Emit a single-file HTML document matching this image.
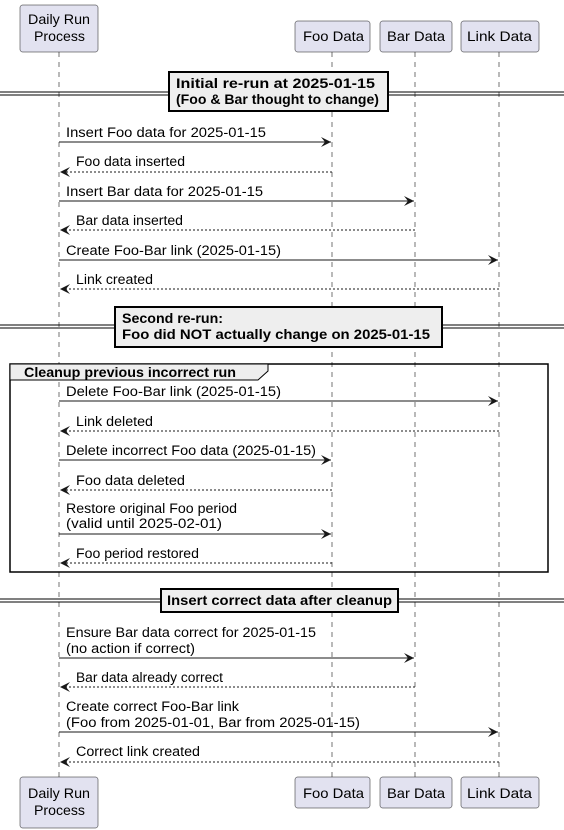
<!DOCTYPE html>
<html><head><meta charset="utf-8"><style>
html,body{margin:0;padding:0;background:#fff}
svg{display:block}
text{font-family:"Liberation Sans",sans-serif;font-size:13.5px;fill:#000}
.b{font-weight:bold}
.pt{font-size:14px}
</style></head><body>
<svg width="564" height="830" viewBox="0 0 564 830" xmlns="http://www.w3.org/2000/svg">
<defs>
<marker id="a" markerWidth="12" markerHeight="10" refX="10" refY="5" orient="auto" markerUnits="userSpaceOnUse">
<path d="M0,0 L10,5 L0,10 L4,5 Z" fill="#181818"/>
</marker>
</defs>
<g stroke="#181818" stroke-width="0.6" stroke-dasharray="5,5">
<line x1="59" y1="52" x2="59" y2="777"/>
<line x1="332" y1="52" x2="332" y2="777"/>
<line x1="415" y1="52" x2="415" y2="777"/>
<line x1="499" y1="52" x2="499" y2="777"/>
</g>
<g fill="#E2E2F0" stroke="#181818" stroke-width="0.5">
<rect x="20" y="5" width="78" height="47" rx="2.5"/>
<rect x="295" y="21" width="75" height="31" rx="2.5"/>
<rect x="380" y="21" width="72" height="31" rx="2.5"/>
<rect x="461" y="21" width="78" height="31" rx="2.5"/>
<rect x="20" y="777" width="78" height="51" rx="2.5"/>
<rect x="295" y="777" width="75" height="31" rx="2.5"/>
<rect x="380" y="777" width="72" height="31" rx="2.5"/>
<rect x="461" y="777" width="78" height="31" rx="2.5"/>
</g>
<g>
<text x="28" y="24" class="pt" textLength="62" lengthAdjust="spacingAndGlyphs">Daily Run</text>
<text x="34" y="41" class="pt" textLength="51" lengthAdjust="spacingAndGlyphs">Process</text>
<text x="303" y="41" class="pt" textLength="61" lengthAdjust="spacingAndGlyphs">Foo Data</text>
<text x="387" y="41" class="pt" textLength="58" lengthAdjust="spacingAndGlyphs">Bar Data</text>
<text x="467" y="41" class="pt" textLength="65" lengthAdjust="spacingAndGlyphs">Link Data</text>
<text x="28" y="798" class="pt" textLength="62" lengthAdjust="spacingAndGlyphs">Daily Run</text>
<text x="34" y="815" class="pt" textLength="51" lengthAdjust="spacingAndGlyphs">Process</text>
<text x="303" y="798" class="pt" textLength="61" lengthAdjust="spacingAndGlyphs">Foo Data</text>
<text x="387" y="798" class="pt" textLength="58" lengthAdjust="spacingAndGlyphs">Bar Data</text>
<text x="467" y="798" class="pt" textLength="65" lengthAdjust="spacingAndGlyphs">Link Data</text>
</g>
<g stroke="#000" stroke-width="1">
<line x1="0" y1="92" x2="564" y2="92"/><line x1="0" y1="95" x2="564" y2="95"/>
<line x1="0" y1="325" x2="564" y2="325"/><line x1="0" y1="328" x2="564" y2="328"/>
<line x1="0" y1="599" x2="564" y2="599"/><line x1="0" y1="602" x2="564" y2="602"/>
</g>
<g fill="#EEEEEE" stroke="#000" stroke-width="2">
<rect x="169" y="72" width="219" height="39"/>
<rect x="115" y="307" width="327" height="40"/>
<rect x="161" y="589" width="237" height="23"/>
</g>
<text x="176" y="88" class="b" textLength="199" lengthAdjust="spacingAndGlyphs">Initial re-run at 2025-01-15</text>
<text x="176" y="104" class="b" textLength="203" lengthAdjust="spacingAndGlyphs">(Foo &amp; Bar thought to change)</text>
<text x="122" y="323" class="b" textLength="101" lengthAdjust="spacingAndGlyphs">Second re-run:</text>
<text x="122" y="339" class="b" textLength="308" lengthAdjust="spacingAndGlyphs">Foo did NOT actually change on 2025-01-15</text>
<text x="167" y="605" class="b" textLength="225" lengthAdjust="spacingAndGlyphs">Insert correct data after cleanup</text>
<rect x="10" y="364" width="538" height="208" fill="none" stroke="#000" stroke-width="1.5"/>
<path d="M10,364 L268,364 L268,371 L258,380 L10,380 Z" fill="#EEEEEE" stroke="#000" stroke-width="1"/>
<text x="24" y="377" class="b" textLength="212" lengthAdjust="spacingAndGlyphs">Cleanup previous incorrect run</text>
<g stroke="#181818" stroke-width="1" fill="none">
<line x1="59" y1="142" x2="331" y2="142" marker-end="url(#a)"/>
<line x1="332" y1="172" x2="60" y2="172" stroke-dasharray="2,2" marker-end="url(#a)"/>
<line x1="59" y1="201" x2="414" y2="201" marker-end="url(#a)"/>
<line x1="415" y1="230" x2="60" y2="230" stroke-dasharray="2,2" marker-end="url(#a)"/>
<line x1="59" y1="260" x2="498" y2="260" marker-end="url(#a)"/>
<line x1="499" y1="289" x2="60" y2="289" stroke-dasharray="2,2" marker-end="url(#a)"/>
<line x1="59" y1="401" x2="498" y2="401" marker-end="url(#a)"/>
<line x1="499" y1="431" x2="60" y2="431" stroke-dasharray="2,2" marker-end="url(#a)"/>
<line x1="59" y1="460" x2="331" y2="460" marker-end="url(#a)"/>
<line x1="332" y1="490" x2="60" y2="490" stroke-dasharray="2,2" marker-end="url(#a)"/>
<line x1="59" y1="534" x2="331" y2="534" marker-end="url(#a)"/>
<line x1="332" y1="563" x2="60" y2="563" stroke-dasharray="2,2" marker-end="url(#a)"/>
<line x1="59" y1="658" x2="414" y2="658" marker-end="url(#a)"/>
<line x1="415" y1="687" x2="60" y2="687" stroke-dasharray="2,2" marker-end="url(#a)"/>
<line x1="59" y1="732" x2="498" y2="732" marker-end="url(#a)"/>
<line x1="499" y1="762" x2="60" y2="762" stroke-dasharray="2,2" marker-end="url(#a)"/>
</g>
<g>
<text x="66" y="137" textLength="200" lengthAdjust="spacingAndGlyphs">Insert Foo data for 2025-01-15</text>
<text x="76" y="166" textLength="109" lengthAdjust="spacingAndGlyphs">Foo data inserted</text>
<text x="66" y="196" textLength="197" lengthAdjust="spacingAndGlyphs">Insert Bar data for 2025-01-15</text>
<text x="76" y="225" textLength="107" lengthAdjust="spacingAndGlyphs">Bar data inserted</text>
<text x="66" y="255" textLength="215" lengthAdjust="spacingAndGlyphs">Create Foo-Bar link (2025-01-15)</text>
<text x="76" y="284" textLength="77" lengthAdjust="spacingAndGlyphs">Link created</text>
<text x="66" y="396" textLength="215" lengthAdjust="spacingAndGlyphs">Delete Foo-Bar link (2025-01-15)</text>
<text x="76" y="426" textLength="77" lengthAdjust="spacingAndGlyphs">Link deleted</text>
<text x="66" y="455" textLength="250" lengthAdjust="spacingAndGlyphs">Delete incorrect Foo data (2025-01-15)</text>
<text x="76" y="485" textLength="109" lengthAdjust="spacingAndGlyphs">Foo data deleted</text>
<text x="66" y="513" textLength="171" lengthAdjust="spacingAndGlyphs">Restore original Foo period</text>
<text x="66" y="528" textLength="156" lengthAdjust="spacingAndGlyphs">(valid until 2025-02-01)</text>
<text x="76" y="558" textLength="123" lengthAdjust="spacingAndGlyphs">Foo period restored</text>
<text x="66" y="637" textLength="250" lengthAdjust="spacingAndGlyphs">Ensure Bar data correct for 2025-01-15</text>
<text x="66" y="653" textLength="129" lengthAdjust="spacingAndGlyphs">(no action if correct)</text>
<text x="76" y="682" textLength="147" lengthAdjust="spacingAndGlyphs">Bar data already correct</text>
<text x="66" y="711" textLength="173" lengthAdjust="spacingAndGlyphs">Create correct Foo-Bar link</text>
<text x="66" y="727" textLength="294" lengthAdjust="spacingAndGlyphs">(Foo from 2025-01-01, Bar from 2025-01-15)</text>
<text x="76" y="756" textLength="124" lengthAdjust="spacingAndGlyphs">Correct link created</text>
</g>
</svg>
</body></html>
